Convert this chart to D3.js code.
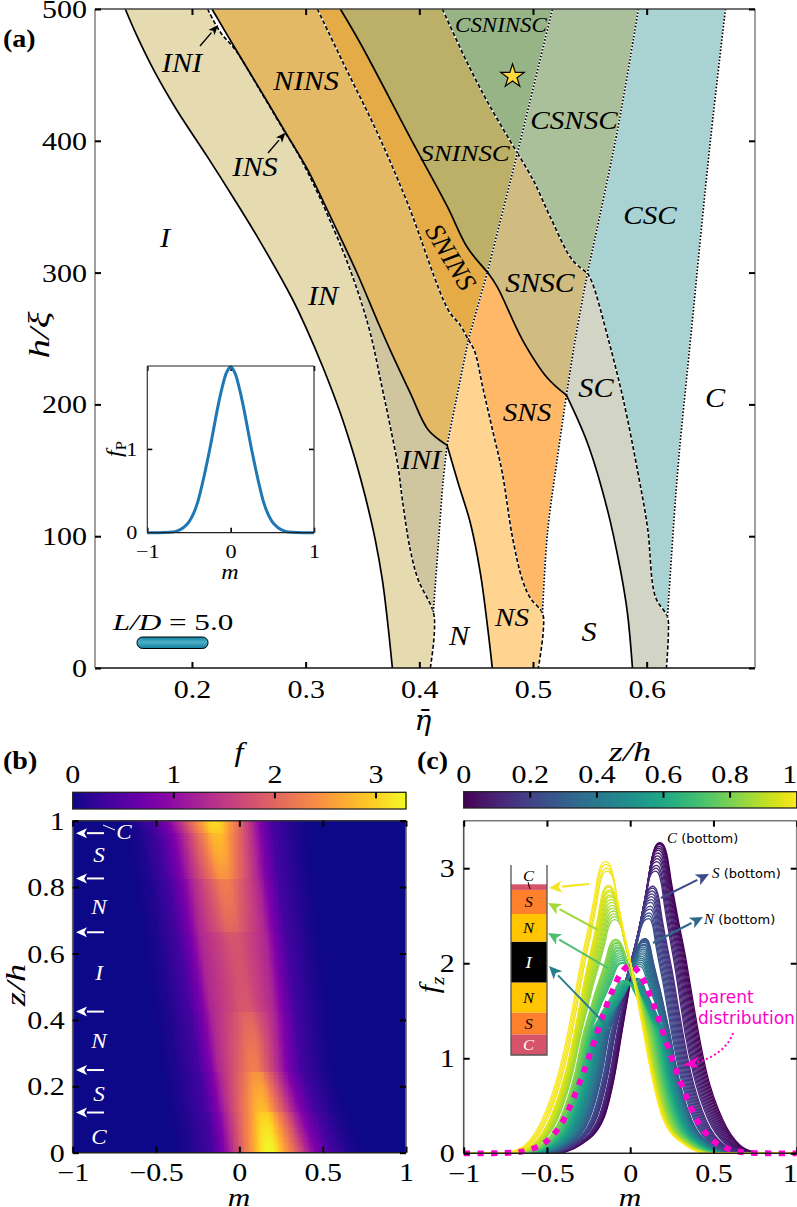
<!DOCTYPE html>
<html><head><meta charset="utf-8"><style>html,body{margin:0;background:#fff}svg{display:block}</style>
<script src="https://cdnjs.cloudflare.com/ajax/libs/d3/7.8.5/d3.min.js"></script></head><body><div id="c"></div>
<script>
// ---------- Panel (a): phase boundaries as [eta, h/xi]
const bIvsIN=[[.1413,500],[.1519,479],[.1677,451.5],[.1866,423.4],[.2135,388],[.2363,357],[.2583,326],[.2874,281.5],[.3001,258.7],[.3151,228.4],[.3305,193.5],[.3411,165.4],[.3463,150],[.3543,123.7],[.3613,97],[.3675,66.8],[.3719,36.4],[.3763,0]];
const bINdash=[[.2137,500],[.2249,482.5],[.2381,469],[.2601,438],[.2821,406],[.2924,391.5],[.3094,362.6],[.3252,332],[.3349,311.8],[.3463,284.5],[.3569,254],[.3672,213],[.3745,183],[.3815,151.7],[.3851,127.5],[.3921,89.5],[.3991,66.8],[.4123,42.5],[.4132,26.5],[.4097,0]];
const bINsolid=[[.2176,500],[.2381,470],[.2601,438.5],[.2821,406.7],[.3012,379],[.3116,361],[.3276,332],[.3452,299.7],[.3628,264],[.3745,241],[.3921,208.6],[.4079,180.6],[.4244,169]];
const bNsolid=[[.4244,169],[.4343,140],[.4449,110],[.4537,72],[.4607,26.5],[.4642,0]];
const dotA=[[.4123,42.5],[.4166,93],[.4210,142.6],[.4244,169]];
const dotB=[[.4244,169],[.4431,249]];
const dotC=[[.4431,249],[.4599,300.4]];
const dotD=[[.4599,300.4],[.4863,390.7]];
const dotE=[[.4863,390.7],[.5171,500]];
const bNSdash=[[.4431,249],[.4484,241],[.4563,211],[.4651,178],[.4730,148],[.4819,99.4],[.4907,66.8],[.4977,53],[.5083,41.7],[.5091,28.8],[.5047,0]];
const dotSNS=[[.5294,207],[.5215,160],[.5127,102.4],[.5083,41.7]];
const dotF=[[.5927,500],[.5743,408],[.5479,299.7]];
const dotG=[[.5479,299.7],[.5373,250],[.5294,207]];
const bSNSsolid=[[.4599,300.4],[.4687,289],[.4907,249],[.5127,220],[.5294,207]];
const bSsolid=[[.5294,207],[.5479,170.7],[.5655,120],[.5769,74.4],[.5831,41.7],[.5875,0]];
const bSCdash=[[.5479,299.7],[.5523,292],[.5664,249],[.5796,203],[.5919,150],[.6007,107],[.6077,54],[.6183,38.7],[.6191,26.6],[.6174,0]];
const dotCC=[[.6693,500],[.6561,400.6],[.6385,249],[.6271,148],[.6183,38.7]];
const bCSNSC=[[.4863,390.7],[.5003,370],[.5153,342],[.5347,309.5],[.5479,299.7]];
const bCSNINS=[[.4203,500],[.4423,459],[.4625,425.6],[.4863,390.7]];
const bNINSdash=[[.3103,500],[.3331,459],[.3631,406],[.3895,353],[.4255,271.6],[.4361,260],[.4431,249]];
const bSNINSsolid=[[.3305,500],[.3481,474],[.3947,398],[.4247,350],[.4423,319],[.4599,300.4]];
const starPoint=[.482,449];
const etaTicks=[.2,.3,.4,.5,.6], hTicks=[0,100,200,300,400,500];
const phaseNames=["INI","NINS","CSNINSC","CSNSC","SNINSC","INS","I","SNINS","CSC","SNSC","IN","SC","SNS","C","INI","N","NS","S"];
// ---------- parent distribution
const parentM=[-1,-.9,-.8,-.7,-.65,-.6,-.55,-.5,-.45,-.4,-.35,-.3,-.25,-.2,-.15,-.1,-.05,0,.05,.1,.15,.2,.25,.3,.35,.4,.45,.5,.55,.6,.65,.7,.8,.9,1];
const parentF=[0,0,.001,.008,.018,.04,.075,.13,.22,.35,.54,.76,1.0,1.26,1.52,1.74,1.91,1.98,1.91,1.74,1.52,1.26,1.0,.76,.54,.35,.22,.13,.075,.04,.018,.008,.001,0,0];
// ---------- z-resolved layers (b) and (c)
const layerZ=[0,.01,.02,.03,.04,.05,.06,.07,.08,.09,.1,.11,.12,.13,.14,.15,.16,.17,.18,.19,.2,.21,.22,.23,.24,.25,.26,.27,.28,.29,.3,.31,.32,.33,.34,.35,.36,.37,.38,.39,.4,.41,.42,.43,.44,.45,.46,.47,.48,.49,.5,.51,.52,.53,.54,.55,.56,.57,.58,.59,.6,.61,.62,.63,.64,.65,.66,.67,.68,.69,.7,.71,.72,.73,.74,.75,.76,.77,.78,.79,.8,.81,.82,.83,.84,.85,.86,.87,.88,.89,.9,.91,.92,.93,.94,.95,.96,.97,.98,.99,1];
const layerPeakM=[.178,.176,.175,.173,.171,.169,.167,.165,.163,.160,.157,.155,.152,
.136,.134,.132,.130,.128,.126,.123,.121,.118,.115,.112,.110,
.090,.089,.088,.087,.086,.085,.083,.082,.080,.078,.076,.074,.071,.068,.065,.062,.058,.052,
.042,.038,.034,.031,.028,.025,.022,.019,.016,.013,.010,.007,.003,0,-.003,-.006,-.010,-.013,-.017,-.020,-.024,-.028,-.032,-.036,
-.045,-.049,-.052,-.055,-.058,-.061,-.063,-.066,-.068,-.071,-.073,-.076,-.079,-.082,-.085,-.088,
-.092,-.095,-.099,-.102,-.106,-.109,-.112,-.115,-.118,-.121,-.124,-.127,-.130,-.132,
-.140,-.143,-.146,-.148];
const layerPeakF=[3.27,3.26,3.25,3.23,3.21,3.19,3.16,3.13,3.10,3.07,3.03,3.00,2.97,
2.81,2.79,2.76,2.73,2.70,2.67,2.64,2.60,2.57,2.53,2.50,2.47,
2.26,2.25,2.24,2.23,2.22,2.20,2.19,2.17,2.15,2.13,2.11,2.09,2.07,2.05,2.03,2.01,1.99,1.97,
1.84,1.83,1.82,1.81,1.80,1.80,1.79,1.79,1.78,1.78,1.78,1.78,1.78,1.78,1.78,1.78,1.78,1.78,1.79,1.79,1.80,1.80,1.81,1.82,
2.00,2.01,2.03,2.05,2.07,2.09,2.11,2.13,2.14,2.16,2.17,2.19,2.21,2.22,2.24,2.25,
2.46,2.49,2.52,2.55,2.58,2.61,2.64,2.67,2.70,2.72,2.75,2.77,2.80,2.82,
2.97,3.00,3.04,3.07];
// flank positions (m) at fixed heights f, read for the z=0 and z=1 curves
const levelF=[0,.02,.087,.35,.85,1.27];
const rightAtZ0=[.80,.73,.658,.557,.459,.41], rightAtZ1=[.47,.40,.33,.20,.125,.08];
const leftAtZ0=[-.45,-.38,-.30,-.163,-.09,-.05], leftAtZ1=[-.79,-.71,-.63,-.53,-.43,-.375];
// share of the fan between those curves reached by each layer edge
const fanZ=[0,.12,.13,.24,.25,.42,.43,.66,.67,.82,.83,.96,.97,1];
const fanRight=[0,.245,.285,.49,.525,.606,.62,.77,.785,.89,.91,.976,.985,1];
const fanLeft=[0,.09,.12,.2,.23,.355,.37,.57,.585,.71,.75,.88,.92,1];
// rounded tip above f=1.27: height share vs. flank share
const capQ=[.2,.415,.6,.79,.92,.98,.996], capP=[.83,.65,.47,.3,.2,.115,.05];
const interfaceZ=[.121,.249,.425,.664,.826,.967];
const stackEdges=[0,.121,.249,.425,.664,.826,.967,1];
const stackNames=["C","S","N","I","N","S","C"];
const stackFills=["#d5546a","#fe7f2c","#ffc500","#000000","#ffc500","#fe7f2c","#d5546a"];
const mTicks=[-1,-.5,0,.5,1], zTicks=[0,.2,.4,.6,.8,1], fTicks=[0,1,2,3], barFTicks=[0,1,2,3], barZTicks=[0,.2,.4,.6,.8,1];

const W=797,H=1207;
const svg=d3.select("#c").append("svg").attr("width",W).attr("height",H).attr("viewBox",`0 0 ${W} ${H}`);
const SERIF="'Liberation Serif',serif", SANS="'DejaVu Sans',sans-serif";
const rev=a=>a.slice().reverse();
function txt(p,x,y,s,o={}){
  const t=p.append("text").attr("transform",`translate(${x},${y})${o.rot?` rotate(${o.rot})`:""} scale(${o.sx||1},1)`)
   .attr("font-family",o.family||SERIF).attr("font-size",o.size||24).attr("text-anchor",o.anchor||"middle")
   .attr("dy",".34em").attr("fill",o.fill||"#000");
  if(o.italic)t.attr("font-style","italic"); if(o.weight)t.attr("font-weight",o.weight);
  t.text(s); return t;
}
function arrow(p,x1,y1,x2,y2,c,w=2,hl=10,hw=5){
  const a=Math.atan2(y2-y1,x2-x1),bx=x2-hl*Math.cos(a),by=y2-hl*Math.sin(a);
  p.append("line").attr("x1",x1).attr("y1",y1).attr("x2",bx).attr("y2",by).attr("stroke",c).attr("stroke-width",w);
  const nx=-Math.sin(a)*hw,ny=Math.cos(a)*hw;
  p.append("path").attr("d",`M${x2},${y2}L${bx+nx},${by+ny}L${bx+.25*hl*Math.cos(a)},${by+.25*hl*Math.sin(a)}L${bx-nx},${by-ny}Z`).attr("fill",c);
}
function frame(g,x,y,o={}){
  const [x0,x1]=x.range(),[y0,y1]=y.range();
  const sp=(a,b,c,d,col)=>g.append("line").attr("x1",a).attr("y1",b).attr("x2",c).attr("y2",d).attr("stroke",col).attr("stroke-width",o.sw||1.6);
  sp(x0,y1,x1,y1,o.top||"#444");sp(x0,y0,x1,y0,o.bottom||"#111");sp(x0,y0,x0,y1,o.left||"#888");sp(x1,y0,x1,y1,o.right||"#888");
}
function axes(g,x,y,xt,yt,o={}){
  const ts=o.ts||6,fs=o.fs||25,sx=o.sx||1.2,fmt=d=>String(d).replace("-","\u2212");
  const mk=(ax,tr)=>{const a=g.append("g").attr("transform",tr).call(ax);a.select(".domain").remove();
    a.selectAll("line").attr("stroke","#000").attr("stroke-width",o.tw||2);return a;};
  const b=mk(d3.axisBottom(x).tickValues(xt).tickSize(-ts).tickFormat(fmt),`translate(0,${y.range()[0]})`);
  mk(d3.axisTop(x).tickValues(xt).tickSize(-ts).tickFormat(""),`translate(0,${y.range()[1]})`);
  const l=mk(d3.axisLeft(y).tickValues(yt).tickSize(-ts).tickFormat(fmt),`translate(${x.range()[0]},0)`);
  mk(d3.axisRight(y).tickValues(yt).tickSize(-ts).tickFormat(""),`translate(${x.range()[1]},0)`);
  b.selectAll("text").attr("font-family",SERIF).attr("font-size",fs).attr("fill","#000").attr("y",0).attr("dy","0.34em")
   .attr("transform",d=>`translate(${(o.endShift&&d===xt[xt.length-1])?-o.endShift:0},${o.xgap||21}) scale(${sx},1)`);
  l.selectAll("text").attr("font-family",SERIF).attr("font-size",fs).attr("fill","#000").attr("x",0).attr("dy","0.34em")
   .attr("text-anchor","end").attr("transform",`translate(${-(o.ygap||8)},0) scale(${sx},1)`);
}
// ============ Panel (a)
const xA=d3.scaleLinear().domain([.1147,.6953]).range([95,755]);
const yA=d3.scaleLinear().domain([0,500]).range([668,9]);
const lineA=d3.line().x(d=>xA(d[0])).y(d=>yA(d[1])).curve(d3.curveCatmullRom.alpha(.5));
const poly=segs=>segs.map((s,i)=>{const d=lineA(s);return i?d.replace(/^M/,"L"):d}).join("")+"Z";
const gA=svg.append("g");
const regions=[
 [[bIvsIN,rev(bINdash)],"#e5dab0"],
 [[bINdash.slice(7,18),dotA,rev(bINsolid.slice(6))],"#cfc59e"],
 [[bINsolid,dotB,rev(bNINSdash)],"#e3b965"],
 [[bNINSdash,dotC,rev(bSNINSsolid)],"#e4ab46"],
 [[bSNINSsolid,dotD,rev(bCSNINS)],"#bcb068"],
 [[bCSNINS,dotE],"#97b487"],
 [[rev(dotE),bCSNSC,rev(dotF)],"#a9c09a"],
 [[bCSNSC,dotG,rev(bSNSsolid),dotD],"#d0bc80"],
 [[bNSdash.slice(0,9),rev(dotSNS),rev(bSNSsolid),rev(dotC)],"#ffb867"],
 [[bNsolid,rev(bNSdash),rev(dotB)],"#ffd390"],
 [[bSCdash,rev(bSsolid),rev(dotG)],"#d2d4c6"],
 [[dotF,bSCdash.slice(0,8),rev(dotCC)],"#a9d2d2"]];
gA.selectAll("path.r").data(regions).join("path").attr("class","r").attr("d",d=>poly(d[0])).attr("fill",d=>d[1]);
const strokeSet=(arr,w,col,dash)=>gA.selectAll(null).data(arr).join("path").attr("d",lineA).attr("fill","none").attr("stroke",col).attr("stroke-width",w).attr("stroke-dasharray",dash||null);
const dashed=[bINdash,bNSdash,bSCdash,bCSNSC,bCSNINS,bNINSdash], dotted=[dotA,dotB,dotC,dotD,dotE,dotF,dotG,dotSNS,dotCC];
strokeSet(dashed,1.6,"#fff"); strokeSet(dashed,1.6,"#000","4.2,2.2");
strokeSet(dotted,1.7,"#fff"); strokeSet(dotted,1.7,"#000","1.6,1.8");
strokeSet([bIvsIN,bINsolid,bNsolid,bSNSsolid,bSsolid,bSNINSsolid],1.7,"#000");
frame(gA,xA,yA);
axes(gA,xA,yA,etaTicks,hTicks);
const labelSpots=[[182,63,27],[306,81,27],[501,25,20.5],[574,120,26],[465,153,24],[255,167,27],[165,238,27],[451,257,27,59],[650,215,26],[540,283,26.5],[323,296,27],[596,388,27],[527,412,26],[715,398,27],[421,460,27],[459,636,27],[512,617,26],[589,632,27]];
labelSpots.forEach((s,i)=>txt(gA,s[0],s[1],phaseNames[i],{size:s[2],italic:true,sx:s[3]?1:1.12,rot:s[3]}));
arrow(gA,200,46,218,25,"#000",1.4,10,4);
arrow(gA,268,153,285.5,132.5,"#000",1.4,10,4);
gA.append("path").attr("d",d3.symbol(d3.symbolStar).size(170)()).attr("transform",`translate(${xA(starPoint[0])},${yA(starPoint[1])})`).attr("fill","#ffd83d").attr("stroke","#000").attr("stroke-width",1.2);
txt(gA,39,335,"h/ξ",{size:30,italic:true,rot:-90,sx:1.3});
txt(gA,423,720,"η̄",{size:28,italic:true,family:"'DejaVu Serif',serif"});
txt(gA,3,38,"(a)",{size:25,weight:"bold",anchor:"start",sx:1.12});
// L/D
const ld=txt(gA,173,622,"",{size:24,sx:1.3});
ld.append("tspan").attr("font-style","italic").text("L/D");
ld.append("tspan").text(" = 5.0");
const capGrad=svg.append("defs").append("linearGradient").attr("id","cap").attr("x1",0).attr("x2",0).attr("y1",0).attr("y2",1);
[[0,"#0f7f9f"],[.45,"#4fb0c6"],[1,"#0d7a9b"]].forEach(s=>capGrad.append("stop").attr("offset",s[0]).attr("stop-color",s[1]));
gA.append("rect").attr("x",137).attr("y",637).attr("width",71).attr("height",11.5).attr("rx",5.5).attr("fill","url(#cap)").attr("stroke","#000").attr("stroke-width",1);
// inset
const xI=d3.scaleLinear().domain([-1,1]).range([147.3,314]);
const yI=d3.scaleLinear().domain([0,1.99]).range([532.7,366]);
const gI=svg.append("g");
axes(gI,xI,yI,[-1,0,1],[0,1],{ts:5,fs:18.5,tw:1.6,xgap:19,ygap:10,sx:1.2});
gI.append("path").datum(d3.zip(parentM,parentF)).attr("d",d3.line().x(d=>xI(d[0])).y(d=>yI(d[1])).curve(d3.curveCatmullRom)).attr("fill","none").attr("stroke","#1f77b4").attr("stroke-width",3);
frame(gI,xI,yI,{top:"#222",bottom:"#222",left:"#333",right:"#333",sw:1.2});
txt(gI,230,572,"m",{size:20,italic:true,sx:1.2});
const fp=txt(gI,114,449,"f",{size:22,italic:true,rot:-90,sx:1.1});
fp.append("tspan").attr("dy",5).attr("font-size",15).attr("font-style","normal").text("P");
// ---------- build each layer's outline from the tables above
const tR=d3.scaleLinear().domain(fanZ).range(fanRight), tL=d3.scaleLinear().domain(fanZ).range(fanLeft);
const layerCurves=layerZ.map((z,i)=>{
  const r=levelF.map((f,k)=>[d3.interpolateNumber(rightAtZ0[k],rightAtZ1[k])(tR(z)),f]);
  const l=levelF.map((f,k)=>[d3.interpolateNumber(leftAtZ0[k],leftAtZ1[k])(tL(z)),f]);
  const m0=layerPeakM[i],h=layerPeakF[i],top=levelF[levelF.length-1],mr=r[r.length-1][0],ml=l[l.length-1][0];
  const capR=capQ.map((q,k)=>[m0+(mr-m0)*capP[k],top+(h-top)*q]);
  const capL=capQ.map((q,k)=>[m0+(ml-m0)*capP[k],top+(h-top)*q]);
  return [[-1,0],...l,...capL,[m0,h],...rev(capR),...rev(r),[1,0]];
});
const density=layerCurves.map(c=>d3.scaleLinear().domain(c.map(p=>p[0])).range(c.map(p=>p[1])));
const mGrid=d3.range(-1,1.0001,.01);
// ============ Panel (b)
const xB=d3.scaleLinear().domain([-1,1]).range([72.7,406]);
const yB=d3.scaleLinear().domain([0,1]).range([1152.7,820.7]);
const colorF=d3.scaleSequential(d3.interpolatePlasma).domain([0,3.297]);
const gB=svg.append("g");
gB.append("rect").attr("x",72.7).attr("y",820.7).attr("width",333.3).attr("height",332).attr("fill",colorF(0));
const cells=[];
layerZ.forEach((z,i)=>mGrid.slice(0,-1).forEach(m=>{const v=density[i](m+.005);if(v>.015)cells.push({z,m,v})}));
gB.append("g").attr("shape-rendering","crispEdges").selectAll("rect").data(cells).join("rect")
 .attr("x",d=>xB(d.m)).attr("width",xB(.01)-xB(0)+.6)
 .attr("y",d=>yB(Math.min(1,d.z+.005))).attr("height",d=>yB(Math.max(0,d.z-.005))-yB(Math.min(1,d.z+.005))+.5).attr("fill",d=>colorF(d.v));
frame(gB,xB,yB,{top:"#333",bottom:"#222",left:"#666",right:"#666"});
axes(gB,xB,yB,mTicks,zTicks,{xgap:20});
interfaceZ.forEach(z=>arrow(gB,104,yB(z)+(z>.9?1.5:0),76,yB(z)+(z>.9?1.5:0),"#fff",2,11,5));
[[.05,"C"],[.18,"S"],[.34,"N"],[.545,"I"],[.745,"N"],[.9,"S"]].forEach(d=>txt(gB,99,yB(d[0])+1,d[1],{size:21,italic:true,fill:"#fff",sx:1.1}));
txt(gB,124,832,"C",{size:21,italic:true,fill:"#fff",sx:1.1});
gB.append("line").attr("x1",103).attr("y1",825).attr("x2",115).attr("y2",830).attr("stroke","#fff").attr("stroke-width",1);
txt(gB,239,1197,"m",{size:26,italic:true,sx:1.2});
txt(gB,15,985,"z/h",{size:28,italic:true,rot:-90,sx:1.3});
txt(gB,3,760,"(b)",{size:25,weight:"bold",anchor:"start",sx:1.12});
// colourbars
function colourbar(g,x,y0,y1,scale,ticks,dom,endShift){
  const st=d3.range(dom[0],dom[1],(dom[1]-dom[0])/333);
  g.append("g").attr("shape-rendering","crispEdges").selectAll("rect").data(st).join("rect").attr("x",d=>x(d)).attr("y",y0).attr("width",1.6).attr("height",y1-y0).attr("fill",d=>scale(d));
  g.append("rect").attr("x",x.range()[0]).attr("y",y0).attr("width",x.range()[1]-x.range()[0]).attr("height",y1-y0).attr("fill","none").attr("stroke","#222").attr("stroke-width",1.3);
  g.selectAll(null).data(ticks.slice(1,endShift?-1:undefined)).join("line").attr("x1",d=>x(d)).attr("x2",d=>x(d)).attr("y1",y0).attr("y2",y0+6).attr("stroke","#000").attr("stroke-width",2);
  ticks.forEach((d,i)=>txt(g,x(d)-(endShift&&i===ticks.length-1?endShift:0),774,String(d),{size:25,sx:1.2}));
}
const xBar=d3.scaleLinear().domain([0,3.297]).range([72.7,406]);
colourbar(svg.append("g"),xBar,792.3,809,colorF,barFTicks,[0,3.297]);
txt(svg,239,751,"f",{size:28,italic:true,sx:1.15});
// ============ Panel (c)
const xC=d3.scaleLinear().domain([-1,1]).range([463.7,796.7]);
const yC=d3.scaleLinear().domain([0,3.5]).range([1153.3,820.7]);
const colorZ=d3.scaleSequential(d3.interpolateViridis).domain([0,1]);
const gC=svg.append("g");
const lineC=d3.line().x(d=>xC(d[0])).y(d=>yC(d[1])).curve(d3.curveMonotoneX);
gC.selectAll("path.curve").data(layerZ).join("path").attr("class","curve")
 .attr("d",(z,i)=>lineC(layerCurves[i])).attr("fill","none").attr("stroke",z=>colorZ(z)).attr("stroke-width",1.3);
gC.append("path").datum(d3.zip(parentM,parentF)).attr("d",d3.line().x(d=>xC(d[0])).y(d=>yC(d[1])).curve(d3.curveCatmullRom))
 .attr("fill","none").attr("stroke","#ff00cc").attr("stroke-width",5.8).attr("stroke-dasharray","6.3,7.4");
frame(gC,xC,yC,{top:"#777",bottom:"#222",left:"#555",right:"#888"});
axes(gC,xC,yC,mTicks,fTicks,{xgap:20,ygap:9,endShift:7});
// stack
const yS=d3.scaleLinear().domain([0,1]).range([1055,884.3]);
const gS=gC.append("g");
d3.pairs(stackEdges).forEach((p,i)=>{
  gS.append("rect").attr("x",511).attr("width",36).attr("y",yS(p[1])).attr("height",yS(p[0])-yS(p[1])).attr("fill",stackFills[i]);
  const white=i===0||i===3;
  txt(gS,528.5,i===6?876:(yS(p[0])+yS(p[1]))/2,stackNames[i],{size:i===3?17:15,italic:true,fill:white?"#fff":"#000",sx:1.1});
});
gS.append("path").attr("d","M511,865V1055H547V865").attr("fill","none").attr("stroke","#555").attr("stroke-width",1.3);
gS.append("line").attr("x1",528).attr("y1",882).attr("x2",530).attr("y2",889).attr("stroke","#000").attr("stroke-width",1);
arrow(gC,589,884,549,888,"#f5e528",2.2,13,6);
arrow(gC,598,930,548,903,"#a5d83c",2,13,6);
arrow(gC,608,968,548,933,"#4fbe73",2,13,6);
arrow(gC,610,1029,549,966,"#277f8e",2,13,6);
arrow(gC,661,898,709,874,"#3f4a8a",2,13,6);
arrow(gC,653,943,703,917,"#31688e",2,13,6);
[[667,838,"C"],[712,872.5,"S"],[704,919,"N"]].forEach(d=>{
  const t=txt(gC,d[0],d[1],d[2],{size:15,italic:true,anchor:"start"});
  t.append("tspan").attr("font-family",SANS).attr("font-style","normal").attr("font-size",13).text(" (bottom)");
});
txt(gC,698,997,"parent",{size:17,family:SANS,fill:"#ff00c8",anchor:"start"});
txt(gC,698,1018,"distribution",{size:17,family:SANS,fill:"#ff00c8",anchor:"start"});
gC.append("path").attr("d","M733,1033C727,1050 710,1060 692,1063").attr("fill","none").attr("stroke","#ff00c8").attr("stroke-width",2).attr("stroke-dasharray","2,2.6");
gC.append("path").attr("d","M683,1065L699,1056L695,1063L698,1068Z").attr("fill","#ff00c8");
txt(gC,630,1197,"m",{size:26,italic:true,sx:1.2});
const fz=txt(gC,428,985,"f",{size:28,italic:true,rot:-90,sx:1.1});
fz.append("tspan").attr("dy",6).attr("font-size",19).text("z");
txt(gC,417,760,"(c)",{size:25,weight:"bold",anchor:"start",sx:1.12});
const xBarZ=d3.scaleLinear().domain([0,1]).range([463.7,796.7]);
colourbar(svg.append("g"),xBarZ,791.7,808,colorZ,barZTicks,[0,1],7);
txt(svg,630,751,"z/h",{size:28,italic:true,sx:1.3});
</script></body></html>
